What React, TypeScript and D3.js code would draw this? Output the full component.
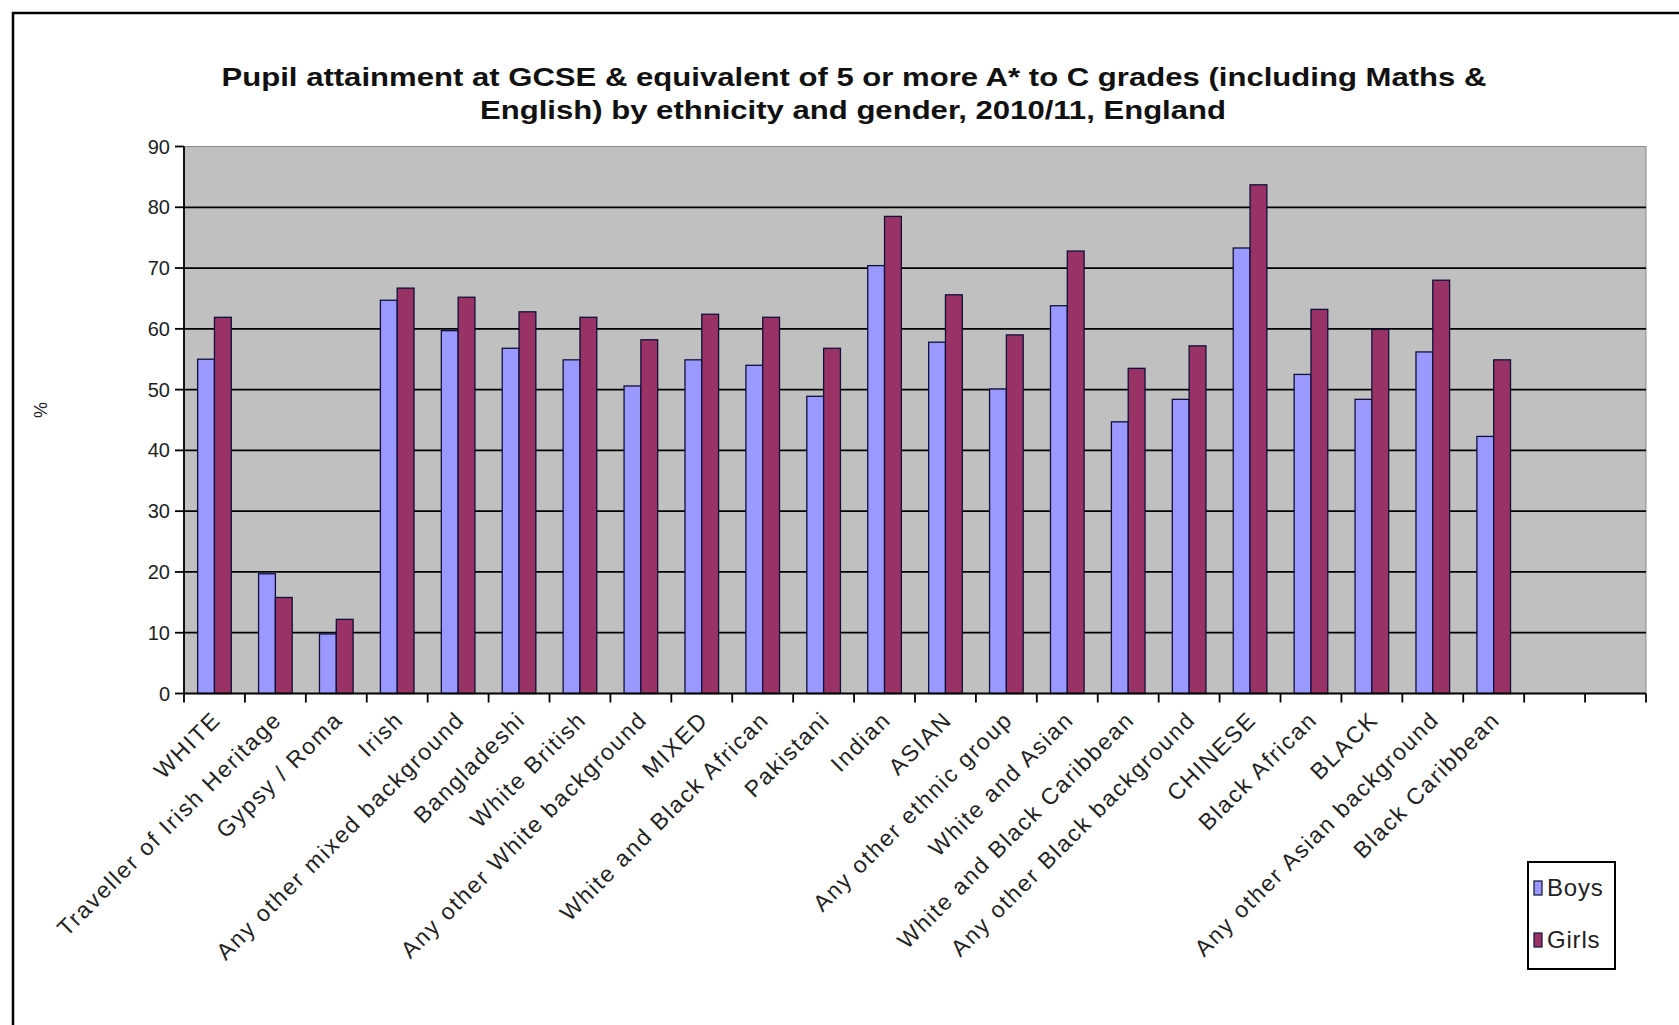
import React from 'react';
import * as d3 from 'd3';

const W = 1679;
const H = 1025;

const categories = [
  'WHITE', 'Traveller of Irish Heritage', 'Gypsy / Roma', 'Irish', 'Any other mixed background',
  'Bangladeshi', 'White British', 'Any other White background', 'MIXED', 'White and Black African',
  'Pakistani', 'Indian', 'ASIAN', 'Any other ethnic group', 'White and Asian',
  'White and Black Caribbean', 'Any other Black background', 'CHINESE', 'Black African', 'BLACK',
  'Any other Asian background', 'Black Caribbean',
];
// two empty slots at the right end of the category axis
const emptySlots = ['_e1', '_e2'];

const boys = [55.0, 19.7, 9.8, 64.7, 59.7, 56.8, 54.9, 50.6, 54.9, 54.0, 48.9, 70.4, 57.8, 50.1, 63.8, 44.7, 48.4, 73.3, 52.5, 48.4, 56.2, 42.3];
const girls = [61.9, 15.8, 12.2, 66.7, 65.2, 62.8, 61.9, 58.2, 62.4, 61.9, 56.8, 78.5, 65.6, 59.0, 72.8, 53.5, 57.2, 83.7, 63.2, 59.9, 68.0, 54.9];

const yTicks = [0, 10, 20, 30, 40, 50, 60, 70, 80, 90];
const seriesNames = ['Boys', 'Girls'];
const seriesColors = ['#9999FF', '#993366'];

const titleLines = [
  'Pupil attainment at GCSE & equivalent of 5 or more A* to C grades (including Maths &',
  'English) by ethnicity and gender, 2010/11, England',
];

const FONT = 'Arial, "Liberation Sans", sans-serif';

export default function App() {
  const left = 184;
  const right = 1646;
  const top = 146.5;
  const bottom = 693.5;

  const x = d3.scaleBand<string>().domain([...categories, ...emptySlots]).range([left, right]).padding(0);
  const y = d3.scaleLinear().domain([0, 90]).range([bottom, top]);
  const bw = x.bandwidth();
  const barW = bw * 0.276;
  const offset = bw * 0.224;

  const tickXs = [...x.domain().map((d) => x(d) as number), right];

  return (
    <svg width={W} height={H} style={{ position: 'absolute', left: 0, top: 0 }} fontFamily={FONT}>
      <rect x={0} y={0} width={W} height={H} fill="#fff" />
      {/* chart border */}
      <rect x={13} y={13} width={W + 20} height={H + 20} fill="#fff" stroke="#000" strokeWidth={2.5} />

      {/* title */}
      <text x={854} y={86} textAnchor="middle" fontSize={26} fontWeight="bold" fill="#111"
        textLength={1265} lengthAdjust="spacingAndGlyphs">{titleLines[0]}</text>
      <text x={853} y={119} textAnchor="middle" fontSize={26} fontWeight="bold" fill="#111"
        textLength={746} lengthAdjust="spacingAndGlyphs">{titleLines[1]}</text>

      {/* plot area */}
      <rect x={left} y={top} width={right - left} height={bottom - top} fill="#C0C0C0" stroke="#8a8a8a" strokeWidth={1} />

      {/* gridlines */}
      {yTicks.filter((t) => t > 0 && t < 90).map((t) => (
        <line key={'g' + t} x1={left} x2={right} y1={y(t)} y2={y(t)} stroke="#000" strokeWidth={1.8} />
      ))}

      {/* bars */}
      {categories.map((c, i) => (
        <g key={c}>
          {[boys[i], girls[i]].map((v, s) => (
            <rect key={s} x={(x(c) as number) + offset + s * barW} y={y(v)} width={barW} height={bottom - y(v)}
              fill={seriesColors[s]} stroke="#10103a" strokeWidth={1.3} />
          ))}
        </g>
      ))}

      {/* y axis */}
      <line x1={left} x2={left} y1={top} y2={bottom} stroke="#000" strokeWidth={1.8} />
      {yTicks.map((t) => (
        <g key={'y' + t}>
          <line x1={left - 9} x2={left} y1={y(t)} y2={y(t)} stroke="#000" strokeWidth={1.8} />
          <text x={170} y={y(t)} dy="0.35em" textAnchor="end" fontSize={20} fill="#222">{t}</text>
        </g>
      ))}
      <text transform={`translate(47,410) rotate(-90)`} textAnchor="middle" fontSize={18} fill="#222">%</text>

      {/* x axis */}
      <line x1={left} x2={right} y1={bottom} y2={bottom} stroke="#000" strokeWidth={1.8} />
      {tickXs.map((tx, i) => (
        <line key={'xt' + i} x1={tx} x2={tx} y1={bottom} y2={bottom + 9} stroke="#000" strokeWidth={1.8} />
      ))}
      {categories.map((c) => {
        const cx = (x(c) as number) + bw / 2;
        return (
          <text key={'xl' + c} transform={`translate(${cx + 2},${bottom + 22}) rotate(-45)`} textAnchor="end"
            dy="0.35em" fontSize={23} letterSpacing={1.8} fill="#222">{c}</text>
        );
      })}

      {/* legend */}
      <rect x={1528} y={862} width={87} height={107} fill="#fff" stroke="#000" strokeWidth={2} />
      {seriesNames.map((n, i) => (
        <g key={n} transform={`translate(1534,${888 + i * 52})`}>
          <rect x={0} y={-7} width={8} height={14} fill={seriesColors[i]} stroke="#10103a" strokeWidth={1.2} />
          <text x={13} y={0} dy="0.35em" fontSize={24} letterSpacing={0.8} fill="#222">{n}</text>
        </g>
      ))}
    </svg>
  );
}
